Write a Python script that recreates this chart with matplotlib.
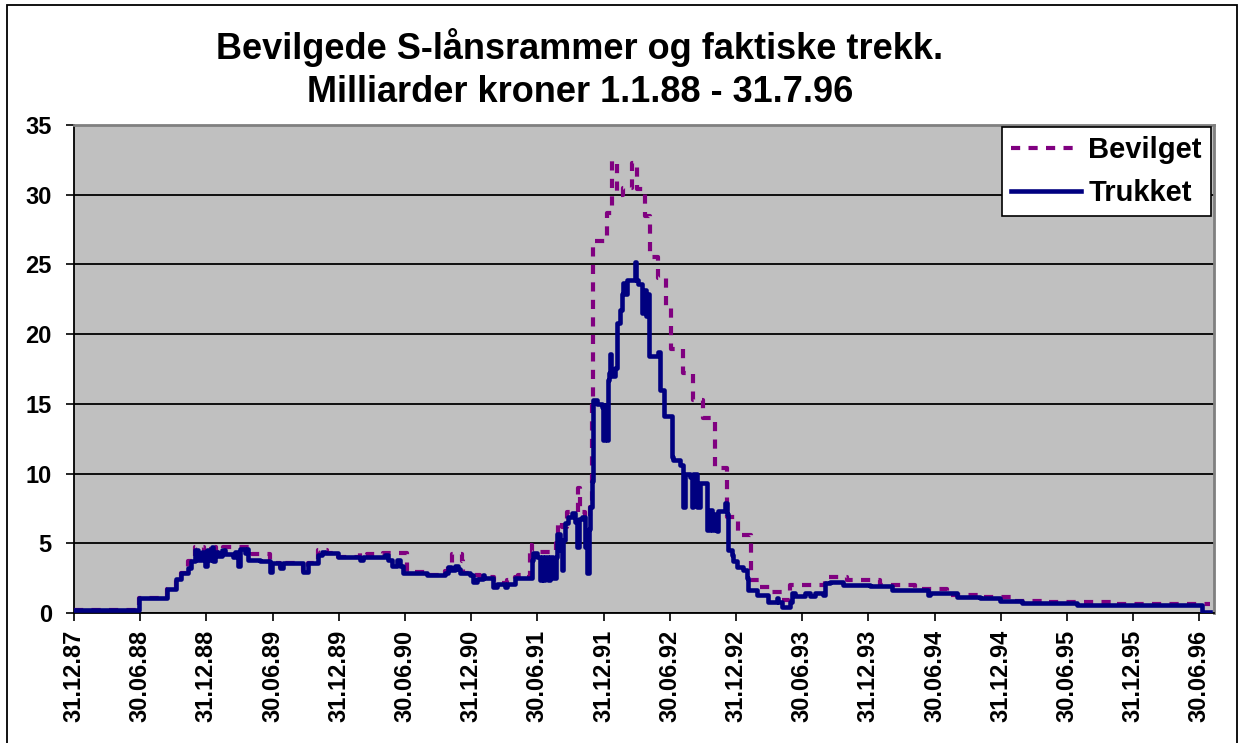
import matplotlib
matplotlib.use("Agg")
import matplotlib.pyplot as plt
from matplotlib.patches import Rectangle

plt.rcParams['font.family'] = ['Liberation Sans', 'DejaVu Sans']
plt.rcParams['font.weight'] = 'bold'

# tid i desimalaar (1988.0 = 31.12.87), verdier i milliarder kroner
trukket_t = [1988.000, 1988.491, 1988.702, 1988.770, 1988.808, 1988.861, 1988.884,
             1988.914, 1988.937, 1988.967, 1988.989, 1989.005, 1989.027, 1989.042,
             1989.050, 1989.065, 1989.088, 1989.118, 1989.141, 1989.201, 1989.216,
             1989.239, 1989.254, 1989.292, 1989.307, 1989.314, 1989.405, 1989.480,
             1989.495, 1989.556, 1989.579, 1989.730, 1989.767, 1989.843, 1989.873,
             1989.896, 1989.994, 1990.160, 1990.183, 1990.349, 1990.372, 1990.402,
             1990.440, 1990.462, 1990.485, 1990.666, 1990.802, 1990.825, 1990.847,
             1990.878, 1990.900, 1990.915, 1990.991, 1991.014, 1991.044, 1991.089,
             1991.097, 1991.165, 1991.195, 1991.255, 1991.270, 1991.331, 1991.459,
             1991.467, 1991.497, 1991.520, 1991.535, 1991.542, 1991.557, 1991.580,
             1991.595, 1991.618, 1991.641, 1991.648, 1991.671, 1991.686, 1991.693,
             1991.708, 1991.731, 1991.761, 1991.784, 1991.799, 1991.814, 1991.837,
             1991.860, 1991.875, 1991.890, 1991.897, 1991.912, 1991.920, 1991.950,
             1991.988, 1991.996, 1992.011, 1992.026, 1992.033, 1992.041, 1992.048,
             1992.056, 1992.086, 1992.101, 1992.124, 1992.139, 1992.147, 1992.162,
             1992.177, 1992.237, 1992.245, 1992.260, 1992.290, 1992.298, 1992.320,
             1992.328, 1992.343, 1992.411, 1992.426, 1992.456, 1992.517, 1992.524,
             1992.577, 1992.600, 1992.615, 1992.653, 1992.668, 1992.675, 1992.706,
             1992.728, 1992.781, 1992.804, 1992.819, 1992.841, 1992.857, 1992.864,
             1992.917, 1992.932, 1992.940, 1992.970, 1992.977, 1993.008, 1993.053,
             1993.083, 1993.091, 1993.159, 1993.242, 1993.310, 1993.317, 1993.348,
             1993.408, 1993.423, 1993.446, 1993.521, 1993.559, 1993.597, 1993.657,
             1993.672, 1993.710, 1993.808, 1994.012, 1994.178, 1994.450, 1994.465,
             1994.669, 1994.843, 1994.994, 1995.160, 1995.576, 1996.520]
trukket_v = [0.2, 1.1, 1.7, 2.45, 2.85, 3.2, 3.7,
             4.5, 3.8, 4.4, 3.4, 4.5, 3.8, 4.7,
             3.7, 4.4, 4.1, 4.5, 4.2, 4.0, 4.4,
             3.4, 4.6, 4.3, 4.6, 3.8, 3.7, 2.96,
             3.56, 3.2, 3.56, 2.96, 3.56, 4.15, 4.4,
             4.3, 4.0, 3.8, 4.0, 4.15, 3.8, 3.4,
             3.8, 3.4, 2.85, 2.73, 2.85, 3.3, 3.05,
             3.4, 3.15, 2.85, 2.75, 2.2, 2.45, 2.7,
             2.5, 1.9, 2.1, 1.9, 2.1, 2.5, 3.8,
             4.3, 4.0, 2.4, 4.0, 2.4, 4.0, 2.4,
             4.0, 2.5, 4.0, 5.7, 4.5, 3.1, 5.2,
             6.45, 6.9, 7.2, 6.5, 4.75, 6.75, 6.9,
             4.75, 2.85, 6.0, 7.6, 9.5, 15.3, 15.0,
             14.8, 12.4, 14.9, 12.4, 16.7, 17.2, 18.6,
             17.0, 17.6, 20.8, 21.7, 22.9, 23.7, 22.9,
             23.9, 25.2, 23.9, 23.6, 21.5, 23.2, 21.3,
             22.9, 18.4, 18.7, 16.0, 14.1, 11.2, 11.0,
             10.6, 7.6, 10.0, 9.75, 7.6, 10.0, 7.6,
             9.3, 5.95, 7.4, 5.95, 7.1, 5.85, 7.3,
             7.9, 7.1, 4.5, 4.15, 3.7, 3.3, 3.1,
             2.5, 1.65, 1.3, 0.8, 1.1, 0.8, 0.45,
             0.8, 1.4, 1.25, 1.4, 1.25, 1.4, 1.3,
             2.17, 2.25, 2.0, 1.95, 1.65, 1.3, 1.45,
             1.17, 1.05, 0.88, 0.74, 0.6, 0.1]

bevilget_t = [1988.000, 1988.491, 1988.702, 1988.770, 1988.808, 1988.861, 1988.914,
              1988.982, 1989.005, 1989.027, 1989.042, 1989.073, 1989.125, 1989.344,
              1989.480, 1989.495, 1989.556, 1989.579, 1989.730, 1989.767, 1989.843,
              1989.911, 1989.994, 1990.160, 1990.183, 1990.213, 1990.334, 1990.515,
              1990.666, 1990.802, 1990.825, 1990.855, 1990.930, 1990.938, 1991.014,
              1991.066, 1991.172, 1991.217, 1991.270, 1991.331, 1991.353, 1991.391,
              1991.444, 1991.459, 1991.641, 1991.656, 1991.686, 1991.724, 1991.807,
              1991.822, 1991.860, 1991.897, 1991.912, 1991.920, 1992.026, 1992.063,
              1992.101, 1992.147, 1992.214, 1992.252, 1992.313, 1992.351, 1992.411,
              1992.471, 1992.509, 1992.600, 1992.675, 1992.751, 1992.841, 1992.932,
              1993.015, 1993.113, 1993.181, 1993.272, 1993.348, 1993.408, 1993.672,
              1993.838, 1994.088, 1994.352, 1994.594, 1994.851, 1995.100, 1995.349,
              1995.840]
bevilget_v = [0.2, 1.1, 1.7, 2.45, 2.85, 3.7, 4.76,
              4.2, 4.6, 4.2, 4.76, 4.4, 4.76, 4.25,
              3.8, 3.6, 3.3, 3.6, 3.0, 3.6, 4.5,
              4.3, 4.05, 4.3, 4.15, 4.25, 4.33, 2.95,
              2.75, 3.0, 3.56, 4.2, 3.7, 2.9, 2.75,
              2.6, 2.2, 2.15, 2.4, 2.6, 2.7, 2.55,
              4.9, 4.4, 5.0, 6.55, 6.2, 7.27, 9.0,
              7.27, 6.75, 7.6, 15.5, 26.7, 28.7, 32.4,
              30.0, 30.5, 32.3, 30.4, 28.5, 25.5, 24.0,
              22.0, 18.9, 17.2, 15.3, 14.0, 10.4, 6.9,
              5.6, 2.4, 1.9, 1.53, 0.93, 2.0, 2.6,
              2.37, 2.0, 1.7, 1.29, 1.12, 0.88, 0.81,
              0.65]
slutt = 1996.58  # 31.7.96

tick_labels = ['31.12.87', '30.06.88', '31.12.88', '30.06.89', '31.12.89', '30.06.90',
               '31.12.90', '30.06.91', '31.12.91', '30.06.92', '31.12.92', '30.06.93',
               '31.12.93', '30.06.94', '31.12.94', '30.06.95', '31.12.95', '30.06.96']

fig = plt.figure(figsize=(12.4, 7.43), dpi=100)
fig.patch.set_facecolor('white')
ax = fig.add_axes([74 / 1240, 1 - 613 / 743, (1214 - 74) / 1240, (613 - 125) / 743])
ax.set_facecolor('#C0C0C0')

ax.step(bevilget_t + [slutt], bevilget_v + [bevilget_v[-1]], where='post',
        color='#800080', lw=3.0, dashes=(2.2, 2.0), label='Bevilget', zorder=3)
ax.step(trukket_t + [slutt], trukket_v + [trukket_v[-1]], where='post',
        color='#000080', lw=3.3, label='Trukket', zorder=4)

ax.set_xlim(1988.0, 1988.0 + (1214 - 74) / 132.4)
ax.set_ylim(0, 35)
ax.set_yticks(range(0, 36, 5))
ax.set_xticks([1988.0 + 0.5 * i for i in range(len(tick_labels))])
ax.set_xticklabels(tick_labels, rotation=90)
ax.tick_params(axis='both', labelsize=17, length=6, width=1.2, direction='out', pad=6)
ax.tick_params(axis='y', pad=10)

ax.grid(axis='y', color='black', lw=1.3)
ax.set_axisbelow(True)
for side in ['top', 'right']:
    ax.spines[side].set_color('#808080')
    ax.spines[side].set_linewidth(2)
for side in ['left', 'bottom']:
    ax.spines[side].set_color('black')
    ax.spines[side].set_linewidth(1.3)

leg = ax.legend(loc='upper right', bbox_to_anchor=(1211 / 1240, 1 - 127 / 743),
                bbox_transform=fig.transFigure, borderaxespad=0, fontsize=21,
                handlelength=2.4, handletextpad=0.25, labelspacing=0.5,
                borderpad=0.32, fancybox=False, framealpha=1)
leg.get_frame().set_edgecolor('black')
leg.get_frame().set_linewidth(1.2)

fig.text(580 / 1240, 1 - 28 / 743,
         'Bevilgede S-lånsrammer og faktiske trekk.\nMilliarder kroner 1.1.88 - 31.7.96',
         ha='center', va='top', fontsize=26, fontweight='bold', linespacing=1.3)

fig.patches.append(Rectangle((7 / 1240, -0.05), 1230 / 1240, 1.05 - 5 / 743,
                             transform=fig.transFigure, fill=False,
                             edgecolor='black', lw=1.3))

fig.savefig('out.png', dpi=100)
